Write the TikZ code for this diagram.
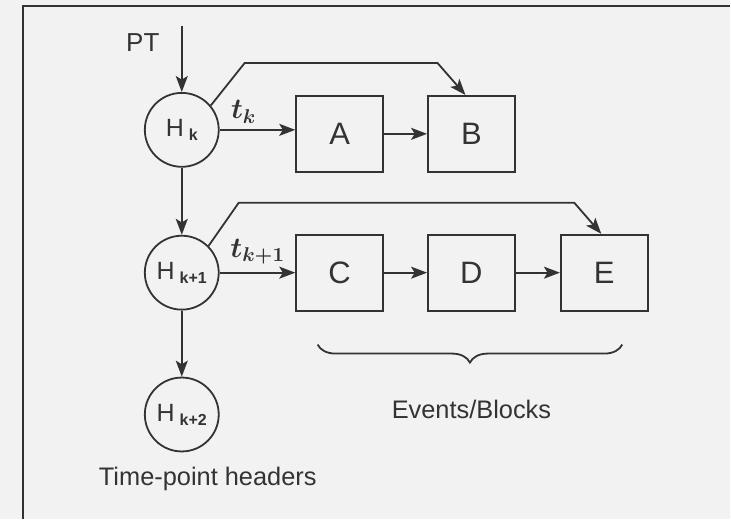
\documentclass[tikz,border=0pt]{standalone}
\usepackage{fontspec}
\setmainfont{Liberation Sans}
\usepackage{amsmath,amssymb}
\usepackage{tikz}
\usetikzlibrary{arrows.meta,decorations.pathreplacing}
\definecolor{ink}{HTML}{333333}
\definecolor{paper}{HTML}{F2F2F2}
\newcommand{\Hsub}[1]{H\kern2.5pt\raisebox{-2pt}{\fontsize{8}{9}\selectfont\bfseries #1}}

\begin{document}
\begin{tikzpicture}[x=0.5pt,y=-0.5pt,line width=0.9pt,
  hdr/.style={circle,draw=ink,minimum size=37pt,inner sep=0pt,text=ink,
    font=\fontsize{12.5}{14}\selectfont},
  blk/.style={draw=ink,minimum width=43.5pt,minimum height=38pt,inner sep=0pt,
    text=ink,font=\fontsize{15.5}{17}\selectfont},
  arr/.style={draw=ink,-{Stealth[length=8pt,width=6pt,inset=1.8pt]}},
  lbl/.style={text=ink,font=\fontsize{12.7}{15}\selectfont},
  tlbl/.style={text=ink,font=\fontsize{14}{16}\selectfont}]
% page and frame
\fill[paper] (0,0) rectangle (731,520);
\draw[ink] (23,520) -- (23,6) -- (731,6);
% time-point headers
\node[lbl,font=\fontsize{13}{15}\selectfont] (pt) at (143,43) {PT};
\coordinate (top) at (182,26);
\node[hdr] (h0) at (182,130) {\Hsub{k}};
\node[hdr] (h1) at (182,273) {\Hsub{k+1}};
\node[hdr] (h2) at (182,415) {\Hsub{k+2}};
\node[lbl] (hdrs) at (208,480) {Time-point headers};
% events / blocks
\node[blk] (A) at (340,134) {A};
\node[blk] (B) at (472,134) {B};
\node[blk] (C) at (340,273) {C};
\node[blk] (D) at (472,273) {D};
\node[blk] (E) at (605,273) {E};
\node[tlbl] (tk) at (244,112) {$\boldsymbol{t_{k}}$};
\node[tlbl] (tk1) at (258,252) {$\boldsymbol{t_{k+1}}$};
% arrows
\draw[arr] (top) -- (h0);
\draw[arr] (h0) -- (h1);
\draw[arr] (h1) -- (h2);
\draw[arr] (h0) -- (h0 -| A.west);
\draw[arr] (A) -- (B);
\draw[arr] (h1) -- (C);
\draw[arr] (C) -- (D);
\draw[arr] (D) -- (E);
% jumps over the next block
\coordinate (j1) at (245,63);
\coordinate (j2) at (438,63);
\draw[arr] (h0.40) -- (j1) -- (j2) -- ([xshift=-3pt]B.north);
\coordinate (j3) at (239,203);
\coordinate (j4) at (575,203);
\draw[arr] (h1.45) -- (j3) -- (j4) -- ([xshift=-1.5pt]E.north);
% brace
\coordinate (bl) at (318,345);
\coordinate (br) at (623,345);
\draw[ink,decorate,decoration={brace,mirror,amplitude=9pt}] (bl) -- (br);
\node[lbl] (ev) at (472,410) {Events/Blocks};
\end{tikzpicture}
\end{document}
